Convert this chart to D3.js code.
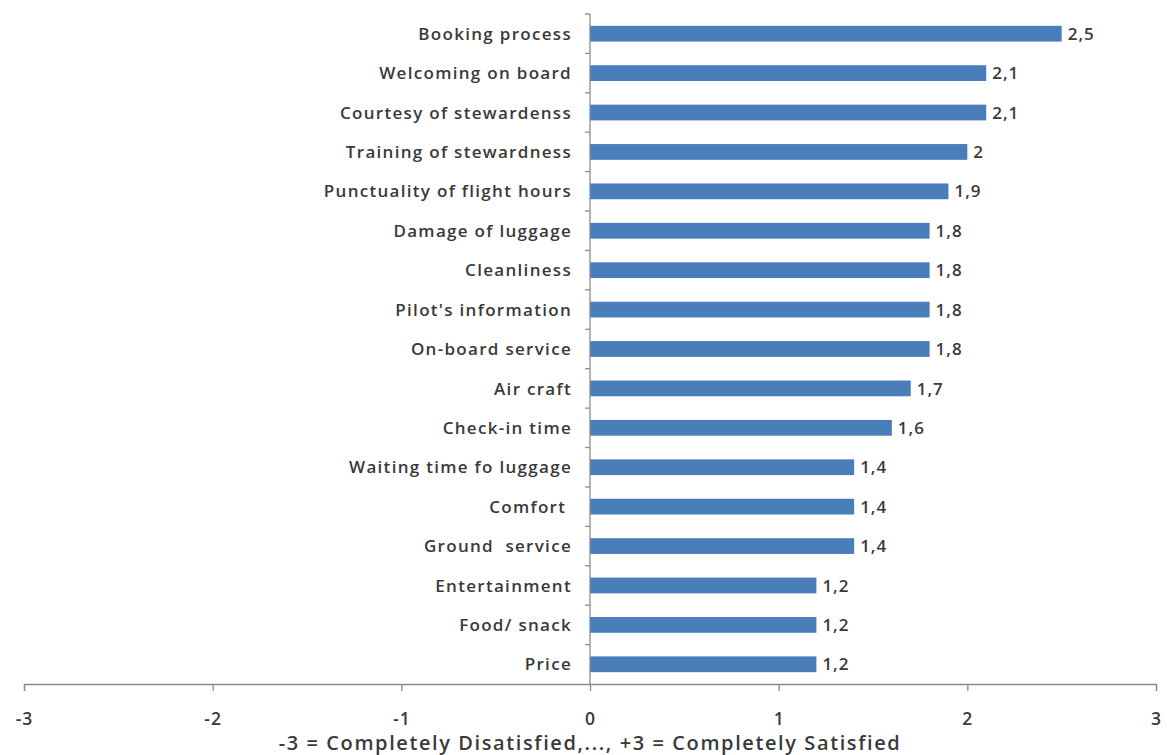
<!DOCTYPE html>
<html><head><meta charset="utf-8">
<script src="https://cdn.jsdelivr.net/npm/d3@7"></script>
<style>
html,body{margin:0;padding:0;background:#fff;}
svg text{font-family:"Open Sans",sans-serif;fill:#3a3a3a;white-space:pre;font-weight:600;}
</style></head>
<body>
<svg id="chart" width="1167" height="755"></svg>
<script>
const categories = ["Booking process","Welcoming on board","Courtesy of stewardenss","Training of stewardness","Punctuality of flight hours","Damage of luggage","Cleanliness","Pilot's information","On-board service","Air craft","Check-in time","Waiting time fo luggage","Comfort ","Ground  service","Entertainment","Food/ snack","Price"];
const values = [2.5,2.1,2.1,2,1.9,1.8,1.8,1.8,1.8,1.7,1.6,1.4,1.4,1.4,1.2,1.2,1.2];
const xTicks = [-3,-2,-1,0,1,2,3];
const axisTitle = "-3 = Completely Disatisfied,..., +3 = Completely Satisfied";

const svg = d3.select("#chart");
const x = d3.scaleLinear().domain([-3,3]).range([24,1156]);
const y = d3.scaleBand().domain(categories).range([14,684]).paddingInner(0.6).paddingOuter(0.3);
const axisColor = "#8c8c8c";

// bars
svg.append("g").selectAll("rect").data(values).join("rect")
  .attr("x", x(0))
  .attr("y", (d,i)=>y(categories[i]))
  .attr("width", d=>x(d)-x(0))
  .attr("height", y.bandwidth())
  .attr("fill", "#4a7ebb");

// y axis line and ticks at band boundaries
const yAxisG = svg.append("g");
yAxisG.append("line").attr("x1",x(0)).attr("x2",x(0)).attr("y1",14).attr("y2",684).attr("stroke",axisColor).attr("stroke-width",1.3);
const bounds = d3.range(categories.length).map(i=>14+i*(670/categories.length));
yAxisG.selectAll(".yt").data(bounds).join("line")
  .attr("x1",x(0)-5).attr("x2",x(0)).attr("y1",d=>d).attr("y2",d=>d)
  .attr("stroke",axisColor).attr("stroke-width",1.3);

// category labels
svg.append("g").selectAll("text").data(categories).join("text")
  .attr("x", x(0)-18)
  .attr("y", d=>y(d)+y.bandwidth()/2)
  .attr("dy","0.36em")
  .attr("text-anchor","end")
  .attr("font-size",17)
  .attr("letter-spacing",1.3)
  .text(d=>d);

// value labels
svg.append("g").selectAll("text").data(values).join("text")
  .attr("x", d=>x(d)+6)
  .attr("y", (d,i)=>y(categories[i])+y.bandwidth()/2)
  .attr("dy","0.36em")
  .attr("font-size",17)
  .attr("letter-spacing",1)
  .text(d=>String(d).replace(".",","));

// x axis
const xAxis = d3.axisBottom(x).tickValues(xTicks).tickSize(7).tickPadding(22).tickFormat(d=>d);
const gx = svg.append("g").attr("transform","translate(0,684)").call(xAxis);
gx.select(".domain").attr("stroke",axisColor).attr("stroke-width",1.3);
gx.selectAll(".tick line").attr("stroke",axisColor).attr("stroke-width",1.3);
gx.selectAll(".tick text").attr("font-size",17.5).attr("letter-spacing",1).attr("fill","#3a3a3a").style("font-family","Open Sans, sans-serif");

svg.append("text")
  .attr("x", x(0))
  .attr("y", 750)
  .attr("text-anchor","middle")
  .attr("font-size",20)
  .attr("letter-spacing",1.6)
  .text(axisTitle);
</script>
</body></html>
